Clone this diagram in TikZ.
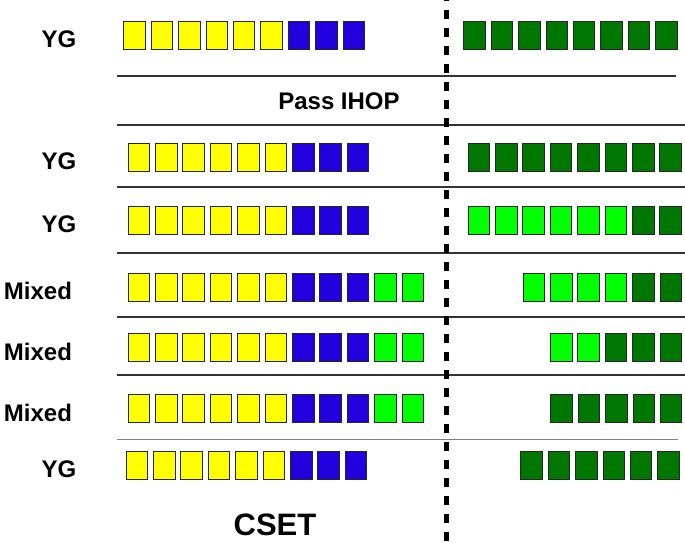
\documentclass[tikz,border=0pt]{standalone}
\usepackage{fontspec}
\setmainfont{Liberation Sans}
\usepackage{tikz}
\definecolor{ye}{RGB}{255,255,0}
\definecolor{bl}{RGB}{34,0,221}
\definecolor{dg}{RGB}{0,119,0}
\definecolor{lg}{RGB}{0,255,0}
\tikzset{
  cell/.style={draw=black!85, line width=0.9pt, minimum width=21.5pt,
    minimum height=28pt, inner sep=0pt},
  lab/.style={font=\bfseries\fontsize{24}{28}\selectfont, inner sep=0pt},
  sep/.style={draw=black!80, line width=1.3pt},
  divider/.style={line width=5pt, dash pattern=on 9pt off 9pt, dash phase=8pt}
}

\begin{document}
\begin{tikzpicture}[x=1pt, y=-1pt]
\useasboundingbox (0,0) rectangle (685,543);

% separators
\foreach \ya/\xb in {76/676, 125/685, 187/685, 253/685, 317/685, 375/685}
  \draw[sep] (117,\ya) -- (\xb,\ya);
\draw[sep, draw=black!50, line width=1.8pt] (117,439.5) -- (678,439.5);

% CSET side
\foreach \r/\xa/\yc/\cols in {
  1/124/35.5/{ye,ye,ye,ye,ye,ye,bl,bl,bl},
  2/128.3/157/{ye,ye,ye,ye,ye,ye,bl,bl,bl},
  3/128.3/220.3/{ye,ye,ye,ye,ye,ye,bl,bl,bl},
  4/128.3/287/{ye,ye,ye,ye,ye,ye,bl,bl,bl,lg,lg},
  5/128.3/347.5/{ye,ye,ye,ye,ye,ye,bl,bl,bl,lg,lg},
  6/128.3/408.5/{ye,ye,ye,ye,ye,ye,bl,bl,bl,lg,lg},
  7/126.3/465/{ye,ye,ye,ye,ye,ye,bl,bl,bl}}
  \foreach \c [count=\i] in \cols
    \node[cell, fill=\c] (l\r-\i) at ({\xa+10.5+(\i-1)*27.4}, \yc) {};

% other side
\foreach \r/\xa/\yc/\cols in {
  1/464/35.5/{dg,dg,dg,dg,dg,dg,dg,dg},
  2/468.3/157/{dg,dg,dg,dg,dg,dg,dg,dg},
  3/468.3/220.3/{lg,lg,lg,lg,lg,lg,dg,dg},
  4/523.3/287/{lg,lg,lg,lg,dg,dg},
  5/550.7/347.5/{lg,lg,dg,dg,dg},
  6/551/408.5/{dg,dg,dg,dg,dg},
  7/521/465/{dg,dg,dg,dg,dg,dg}}
  \foreach \c [count=\i] in \cols
    \node[cell, fill=\c] (r\r-\i) at ({\xa+10.5+(\i-1)*27.4}, \yc) {};

% labels
\node[lab] (yg1) at (59,39.5) {YG};
\node[lab] (ihop) at (339,101.5) {Pass IHOP};
\node[lab] (yg2) at (59,161) {YG};
\node[lab] (yg3) at (59,224) {YG};
\node[lab] (mix1) at (38,291) {Mixed};
\node[lab] (mix2) at (38,351.5) {Mixed};
\node[lab] (mix3) at (38,412.5) {Mixed};
\node[lab] (yg4) at (59,469) {YG};
\node[lab, font=\bfseries\fontsize{31}{36}\selectfont] (cset) at (275,525) {CSET};

\draw[divider] (446,0) -- (446,543);
\end{tikzpicture}
\end{document}
